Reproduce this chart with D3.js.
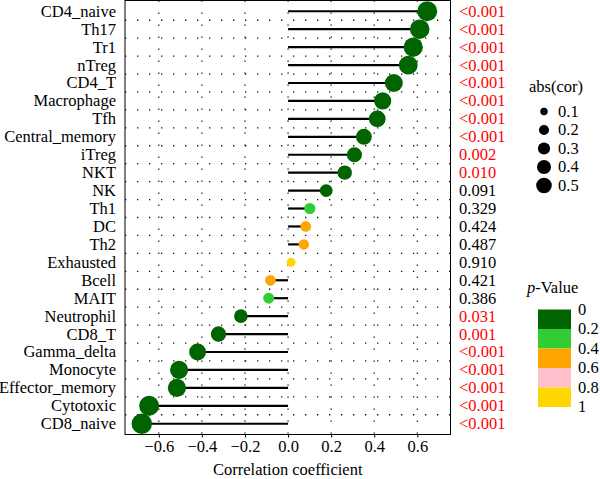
<!DOCTYPE html>
<html><head><meta charset="utf-8">
<script src="https://cdn.jsdelivr.net/npm/d3@7"></script>
<style>body{margin:0;background:#fff}svg{display:block}svg text{font-family:"Liberation Serif","Times New Roman","DejaVu Serif",serif !important;}</style>
</head><body><svg id="c" width="600" height="479"></svg>
<script>
const categories = ["CD4_naive","Th17","Tr1","nTreg","CD4_T","Macrophage","Tfh","Central_memory","iTreg","NKT","NK","Th1","DC","Th2","Exhausted","Bcell","MAIT","Neutrophil","CD8_T","Gamma_delta","Monocyte","Effector_memory","Cytotoxic","CD8_naive"];
const cor = [0.646,0.611,0.581,0.558,0.491,0.439,0.414,0.352,0.308,0.263,0.177,0.101,0.082,0.073,0.014,-0.082,-0.090,-0.219,-0.323,-0.420,-0.506,-0.516,-0.645,-0.679];
const pval = [0.0005,0.0005,0.0005,0.0005,0.0005,0.0005,0.0005,0.0005,0.002,0.010,0.091,0.329,0.424,0.487,0.910,0.421,0.386,0.031,0.001,0.0005,0.0005,0.0005,0.0005,0.0005];
const pLabels = ["<0.001","<0.001","<0.001","<0.001","<0.001","<0.001","<0.001","<0.001","0.002","0.010","0.091","0.329","0.424","0.487","0.910","0.421","0.386","0.031","0.001","<0.001","<0.001","<0.001","<0.001","<0.001"];
const xTicks = [-0.6,-0.4,-0.2,0.0,0.2,0.4,0.6];
const sizeLegend = [0.1,0.2,0.3,0.4,0.5];
const pBreaks = [0,0.2,0.4,0.6,0.8,1];
const pColors = ["#006400","#32CD32","#FFA500","#FFC0CB","#FFD700"];

const FONT = '"Liberation Serif","Times New Roman","DejaVu Serif",serif';
const FS = 16.5;
const data = categories.map((c,i)=>({cat:c, cor:cor[i], p:pval[i], lab:pLabels[i]}));
const svg = d3.select("#c").attr("font-family",FONT);
const L=125, R=450.5, T=0.5, B=434.5;

const x = d3.scaleLinear().domain([-0.757,0.754]).range([L,R]);
const y = d3.scalePoint().domain(categories).range([T,B]).padding(0.6);
const r = d3.scaleRadial().domain([0.014,0.646]).range([4.5,10]);
const rLeg = d3.scaleRadial().domain([0.1,0.5]).range([3.7,7.8]);
const col = d3.scaleThreshold().domain(pBreaks.slice(1,-1)).range(pColors);

// grid
const step = y.step();
const mids = categories.slice(0,-1).map(c=>y(c)+step/2);
svg.append("g").selectAll("line").data(mids).join("line")
  .attr("x1",L).attr("x2",R).attr("y1",d=>d).attr("y2",d=>d)
  .attr("stroke","#111").attr("stroke-width",1.3).attr("stroke-dasharray","1.3,10.7");
svg.append("g").selectAll("line").data(xTicks).join("line")
  .attr("x1",d=>x(d)).attr("x2",d=>x(d)).attr("y1",T).attr("y2",B)
  .attr("stroke","#111").attr("stroke-width",1.3).attr("stroke-dasharray","1.3,10.7");

// segments
svg.append("g").selectAll("line").data(data).join("line")
  .attr("x1",x(0)).attr("x2",d=>x(d.cor)).attr("y1",d=>y(d.cat)).attr("y2",d=>y(d.cat))
  .attr("stroke","#000").attr("stroke-width",2.2);
// points
svg.append("g").selectAll("circle").data(data).join("circle")
  .attr("cx",d=>x(d.cor)).attr("cy",d=>y(d.cat)).attr("r",d=>r(Math.abs(d.cor)))
  .attr("fill",d=>col(d.p));

// panel border
svg.append("rect").attr("x",L).attr("y",T).attr("width",R-L).attr("height",B-T)
  .attr("fill","none").attr("stroke","#000").attr("stroke-width",1);

// y labels
svg.append("g").selectAll("text").data(categories).join("text")
  .attr("x",116).attr("y",d=>y(d)).attr("dy","0.33em").attr("text-anchor","end")
  .attr("font-size",FS).attr("fill","#000").text(d=>d);

// p labels
svg.append("g").selectAll("text").data(data).join("text")
  .attr("x",459).attr("y",d=>y(d.cat)).attr("dy","0.33em")
  .attr("font-size",FS).attr("fill",d=>d.p<0.05?"#FF0000":"#000").text(d=>d.lab);

// x axis
const xa = svg.append("g").attr("transform",`translate(0,${B})`)
  .call(d3.axisBottom(x).tickValues(xTicks).tickSize(3).tickPadding(3).tickFormat(d=>d3.format(".1f")(d).replace("-","\u2212")));
xa.attr("font-family",FONT).attr("font-size",FS);
xa.select(".domain").remove();
xa.selectAll("text").attr("fill","#000");
xa.selectAll("line").attr("stroke","#000");

svg.append("text").attr("x",(L+R)/2).attr("y",475).attr("text-anchor","middle")
  .attr("font-size",FS).text("Correlation coefficient");

// size legend
svg.append("text").attr("x",529).attr("y",92).attr("font-size",FS).text("abs(cor)");
const sl = svg.append("g").selectAll("g").data(sizeLegend).join("g")
  .attr("transform",(d,i)=>`translate(544,${111.5+i*18.5})`);
sl.append("circle").attr("r",d=>rLeg(d)).attr("fill","#000");
sl.append("text").attr("x",14).attr("dy","0.33em").attr("font-size",FS).text(d=>d.toFixed(1));

// p-value legend
const pt = svg.append("text").attr("x",527).attr("y",293).attr("font-size",FS);
pt.append("tspan").attr("font-style","italic").text("p");
pt.append("tspan").text("-Value");
const cy = d3.scaleLinear().domain([0,1]).range([309.5,407]);
svg.append("g").selectAll("rect").data(pColors).join("rect")
  .attr("x",538).attr("width",33)
  .attr("y",(d,i)=>cy(pBreaks[i])).attr("height",(d,i)=>cy(pBreaks[i+1])-cy(pBreaks[i]))
  .attr("fill",d=>d);
svg.append("g").selectAll("text").data(pBreaks).join("text")
  .attr("x",578).attr("y",d=>cy(d)).attr("dy","0.33em").attr("font-size",FS)
  .text(d=>d===0||d===1?String(d):d.toFixed(1));
</script></body></html>
